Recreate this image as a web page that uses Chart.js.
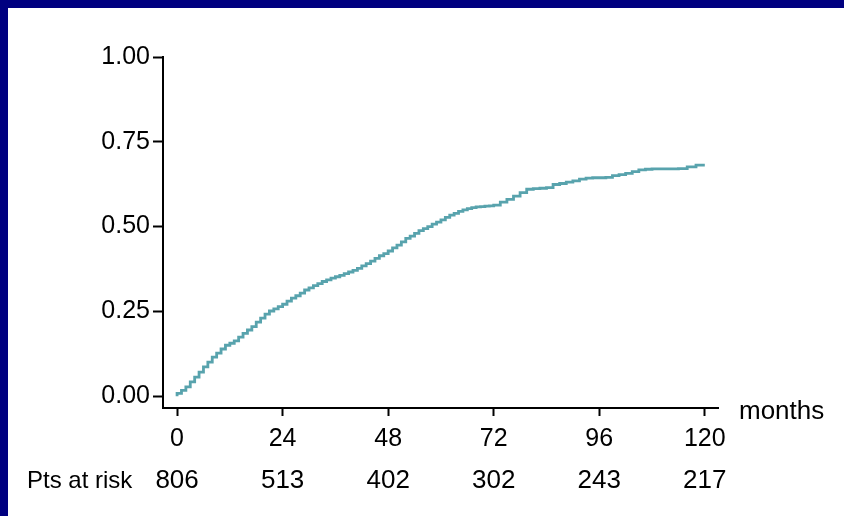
<!DOCTYPE html>
<html>
<head>
<meta charset="utf-8">
<script src="https://cdn.jsdelivr.net/npm/chart.js@4.4.1/dist/chart.umd.min.js"></script>
<style>
  html, body { margin: 0; padding: 0; background: #ffffff; }
  #topbar { position: absolute; left: 0; top: 0; width: 844px; height: 8px; background: #000080; }
  #leftbar { position: absolute; left: 0; top: 0; width: 8px; height: 516px; background: #000080; }
  #km { position: absolute; left: 8px; top: 8px; display: block; }
</style>
</head>
<body>
<div id="topbar"></div>
<div id="leftbar"></div>
<canvas id="km" width="836" height="508"></canvas>
<script>
// ====== DATA ======
const months = [0, 1, 2, 3, 4, 5, 6, 7, 8, 9, 10, 11, 12, 13, 14, 15, 16, 17, 18, 19, 20, 21, 22, 23,
  24, 25, 26, 27, 28, 29, 30, 31, 32, 33, 34, 35, 36, 37, 38, 39, 40, 41, 42, 43, 44, 45, 46, 47,
  48, 49, 50, 51, 52, 53, 54, 55, 56, 57, 58, 59, 60, 61, 62, 63, 64, 65, 66, 67, 68, 69, 70, 71,
  72, 73.5, 75, 76.5, 78, 79.5, 81, 82.5, 84, 85.5, 87, 88.5, 90, 91.5, 93, 94.5,
  96, 97.5, 99, 100.5, 102, 103.5, 105, 106.5, 108, 110, 112, 114, 116, 118, 120];
const incidence = [0, 0.008, 0.017, 0.027, 0.042, 0.056, 0.071, 0.086, 0.100, 0.115, 0.127, 0.139,
  0.150, 0.156, 0.163, 0.174, 0.185, 0.195, 0.205, 0.218, 0.230, 0.242, 0.251, 0.257,
  0.264, 0.271, 0.280, 0.289, 0.296, 0.304, 0.313, 0.319, 0.326, 0.332, 0.338, 0.343,
  0.348, 0.352, 0.356, 0.361, 0.366, 0.371, 0.377, 0.384, 0.391, 0.398, 0.406, 0.414,
  0.420, 0.428, 0.437, 0.445, 0.455, 0.465, 0.472, 0.480, 0.488, 0.494, 0.500, 0.507,
  0.513, 0.520, 0.527, 0.534, 0.539, 0.545, 0.549, 0.553, 0.556, 0.558, 0.559, 0.560,
  0.561, 0.563, 0.572, 0.580, 0.590, 0.600, 0.610, 0.612, 0.613, 0.615, 0.624, 0.627, 0.631, 0.635, 0.640, 0.643,
  0.644, 0.644, 0.645, 0.650, 0.653, 0.657, 0.662, 0.667, 0.669, 0.670, 0.670, 0.670, 0.671, 0.676, 0.681];
const xTicks = [0, 24, 48, 72, 96, 120];
const yTicks = [0, 0.25, 0.5, 0.75, 1.0];
const atRisk = [806, 513, 402, 302, 243, 217];
const atRiskLabel = "Pts at risk";
const xUnit = "months";

const FONT = "'Liberation Sans', Arial, sans-serif";

// extra text below the axis: unit label and numbers at risk
const riskRow = {
  id: 'riskRow',
  afterDraw(chart) {
    const ctx = chart.ctx;
    const xs = chart.scales.x;
    ctx.save();
    ctx.fillStyle = '#000';
    ctx.textBaseline = 'alphabetic';
    ctx.font = '26px ' + FONT;
    ctx.textAlign = 'left';
    ctx.fillText(xUnit, 731, 411);
    ctx.font = '24px ' + FONT;
    ctx.fillText(atRiskLabel, 19, 480);
    ctx.font = '26px ' + FONT;
    ctx.textAlign = 'center';
    xTicks.forEach((m, i) => {
      ctx.fillText(String(atRisk[i]), xs.getPixelForValue(m), 480);
    });
    ctx.restore();
  }
};

const ctx = document.getElementById('km').getContext('2d');
new Chart(ctx, {
  type: 'line',
  data: {
    datasets: [{
      data: months.map((m, i) => ({ x: m, y: incidence[i] })),
      borderColor: '#58a3ad',
      borderWidth: 2.8,
      pointRadius: 0,
      stepped: 'after',
      fill: false
    }]
  },
  options: {
    responsive: false,
    animation: false,
    layout: { padding: { left: 0, top: 49, right: 126, bottom: 0 } },
    plugins: { legend: { display: false }, tooltip: { enabled: false } },
    scales: {
      x: {
        type: 'linear',
        min: -3.2,
        max: 123,
        afterBuildTicks: s => { s.ticks = xTicks.map(v => ({ value: v })); },
        afterFit: s => { s.height = 108; },
        grid: { drawOnChartArea: false, drawTicks: true, tickLength: 8, tickWidth: 2, tickColor: '#000' },
        border: { display: true, color: '#000', width: 2 },
        ticks: { color: '#000', font: { family: FONT, size: 25 }, padding: 8, maxRotation: 0,
          callback: v => String(v) }
      },
      y: {
        min: -0.035,
        max: 1.0,
        afterBuildTicks: s => { s.ticks = yTicks.map(v => ({ value: v })); },
        afterFit: s => { s.width = 155; },
        grid: { drawOnChartArea: false, drawTicks: true, tickLength: 10, tickWidth: 2, tickColor: '#000' },
        border: { display: true, color: '#000', width: 2 },
        ticks: { color: '#000', font: { family: FONT, size: 25 }, padding: 3,
          callback: v => Number(v).toFixed(2) }
      }
    }
  },
  plugins: [riskRow]
});
</script>
</body>
</html>
